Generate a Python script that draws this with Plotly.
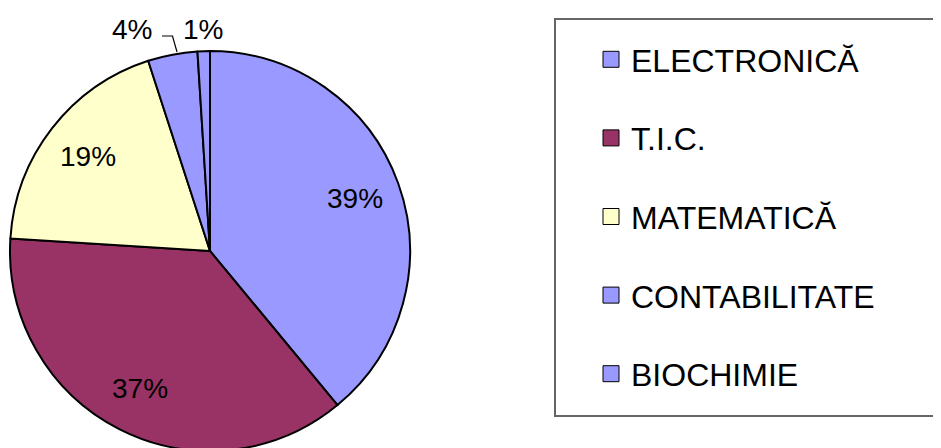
import math
import plotly.graph_objects as go

W, H = 941, 448
OFF = 8  # page margin around the figure, in px

categories = ["ELECTRONICĂ", "T.I.C.", "MATEMATICĂ", "CONTABILITATE", "BIOCHIMIE"]
values = [39, 37, 19, 4, 1]
colors = ["#9999FF", "#993366", "#FFFFCC", "#9999FF", "#9999FF"]
inside_labels = [True, True, True, False, False]

FONT = "Liberation Sans, Arial, sans-serif"

def px_x(v):
    return (v - OFF) / W

def px_y(v):
    return 1 - (v - OFF) / H

# pie geometry (screen px)
CX, CY, R = 210, 251, 200
dom_x = [px_x(CX - R), px_x(CX + R)]
dom_y = [px_y(CY + R), px_y(CY - R)]

fig = go.Figure()

fig.add_trace(go.Pie(
    labels=categories,
    values=values,
    sort=False,
    direction="clockwise",
    rotation=0,
    marker=dict(colors=colors, line=dict(color="#000000", width=2)),
    textinfo="none",
    domain=dict(x=dom_x, y=dom_y),
    showlegend=False,
    hoverinfo="label+percent",
))

# legend entries (one group per category, so the gap between items can be set)
for name, col in zip(categories, colors):
    fig.add_trace(go.Scatter(
        x=[None], y=[None], mode="markers", name=name, legendgroup=name,
        marker=dict(symbol="square", size=16, color=col, line=dict(color="#000000", width=1)),
    ))

# percentage labels of the big slices, placed along each slice's mid angle
total = sum(values)
start = 0.0
for v, show in zip(values, inside_labels):
    frac = v / total
    mid = (start + frac / 2) * 2 * math.pi
    start += frac
    if not show:
        continue
    r = 0.77 * R
    lx = CX + r * math.sin(mid)
    ly = CY - r * math.cos(mid)
    fig.add_annotation(x=px_x(lx), y=px_y(ly), xref="paper", yref="paper",
                       text=f"{v}%", showarrow=False, xanchor="center", yanchor="middle",
                       font=dict(family=FONT, size=28, color="#000000"))

# outside labels for the small slices
small = [(3, 132, 29), (4, 203, 29)]
for idx, xx, yy in small:
    fig.add_annotation(x=px_x(xx), y=px_y(yy), xref="paper", yref="paper",
                       text=f"{values[idx]}%", showarrow=False, xanchor="center", yanchor="middle",
                       font=dict(family=FONT, size=28, color="#000000"))

fig.add_shape(type="path", xref="paper", yref="paper",
              path=f"M {px_x(162)} {px_y(36)} L {px_x(172.5)} {px_y(36)} L {px_x(177)} {px_y(52)}",
              line=dict(color="#000000", width=1.2))

# legend frame
fig.add_shape(type="rect", xref="paper", yref="paper",
              x0=px_x(555), x1=px_x(934), y0=px_y(416), y1=px_y(19),
              line=dict(color="#666666", width=2))

fig.update_layout(
    width=W, height=H,
    margin=dict(l=0, r=0, t=0, b=0),
    paper_bgcolor="#FFFFFF", plot_bgcolor="#FFFFFF",
    xaxis=dict(visible=False), yaxis=dict(visible=False),
    legend=dict(
        x=px_x(591), y=px_y(32), xanchor="left", yanchor="top",
        font=dict(family=FONT, size=32, color="#000000"),
        tracegroupgap=34, itemsizing="trace",
        bgcolor="rgba(0,0,0,0)", borderwidth=0,
    ),
    showlegend=True,
)

fig.write_html("out.html")
